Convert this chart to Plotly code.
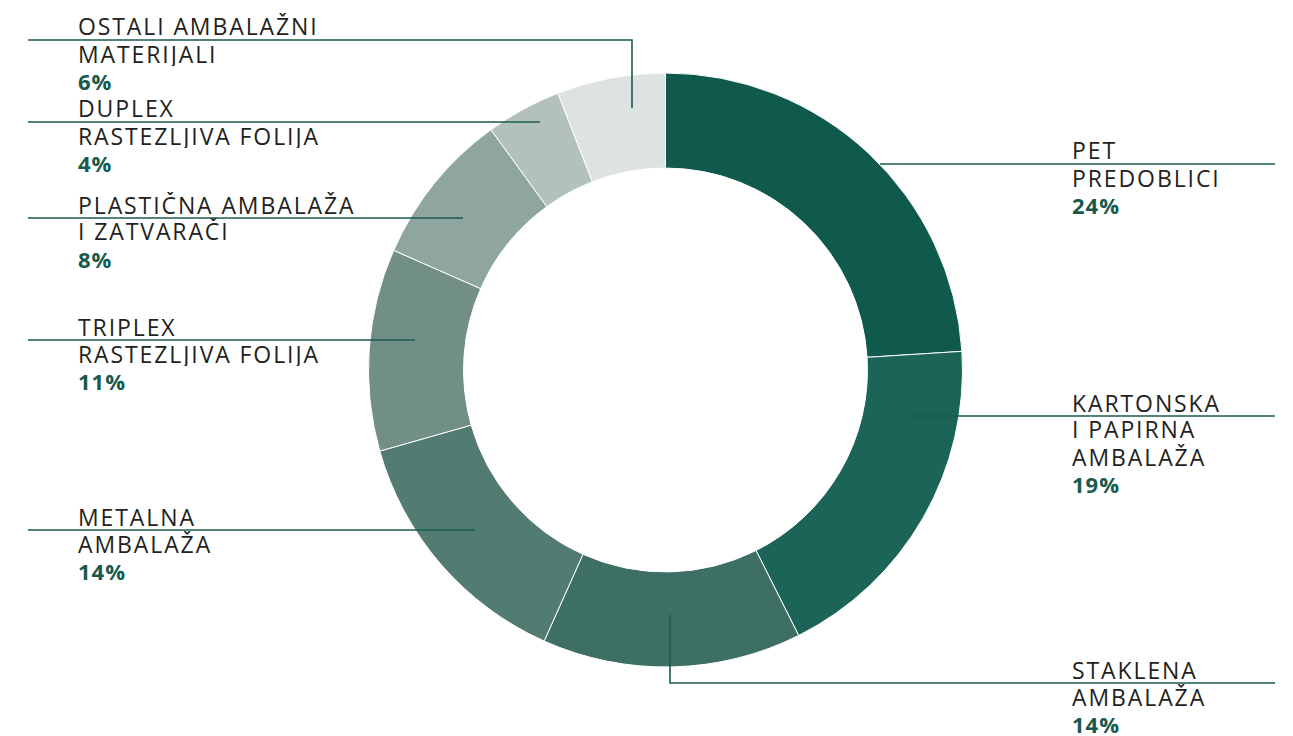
import plotly.graph_objects as go

categories = ["PET PREDOBLICI", "KARTONSKA I PAPIRNA AMBALAŽA", "STAKLENA AMBALAŽA",
              "METALNA AMBALAŽA", "TRIPLEX RASTEZLJIVA FOLIJA", "PLASTIČNA AMBALAŽA I ZATVARAČI",
              "DUPLEX RASTEZLJIVA FOLIJA", "OSTALI AMBALAŽNI MATERIJALI"]
# shares (%); labels show them rounded
values = [24.0, 18.6, 14.1, 13.9, 11.0, 8.4, 4.1, 5.9]
label_lines = [["PET", "PREDOBLICI"], ["KARTONSKA", "I PAPIRNA", "AMBALAŽA"],
               ["STAKLENA", "AMBALAŽA"], ["METALNA", "AMBALAŽA"],
               ["TRIPLEX", "RASTEZLJIVA FOLIJA"], ["PLASTIČNA AMBALAŽA", "I ZATVARAČI"],
               ["DUPLEX", "RASTEZLJIVA FOLIJA"], ["OSTALI AMBALAŽNI", "MATERIJALI"]]
colors = ["#0f5a4d", "#1c6358", "#3d6f64", "#527b72", "#718e87", "#8fa59f", "#b3c1bd", "#dde3e2"]

W, H = 1293, 736
cx, cy, R = 665.5, 370, 297

# layout for labels (pixel positions): text x, line y, leader path points
label_layout = [
    dict(tx=1071, ly=164, path=[(880, 164), (1275, 164)]),
    dict(tx=1071, ly=416, path=[(912, 416), (1275, 416)]),
    dict(tx=1071, ly=683, path=[(670, 615), (670, 683), (1275, 683)]),
    dict(tx=77, ly=530, path=[(475, 530), (28, 530)]),
    dict(tx=77, ly=340, path=[(415, 340), (28, 340)]),
    dict(tx=77, ly=218, path=[(463, 218), (28, 218)]),
    dict(tx=77, ly=122, path=[(540, 122), (28, 122)]),
    dict(tx=77, ly=40, path=[(632, 108), (632, 40), (28, 40)]),
]
LINE_STEP = 27
FONT = "Open Sans"
SIZE = 23
SPACING = "1.9px"

def px(x):
    return x / W

def py(y):
    return 1 - y / H

fig = go.Figure(go.Pie(
    labels=categories, values=values, sort=False, direction="clockwise", rotation=0,
    hole=0.68, marker=dict(colors=colors, line=dict(color="white", width=1)),
    textinfo="none", hoverinfo="label+percent", showlegend=False,
    domain=dict(x=[px(cx - R), px(cx + R)], y=[py(cy + R), py(cy - R)]),
))

line_color = "#1a5a4f"
shapes = []
annotations = []
for lines, v, lay in zip(label_lines, values, label_layout):
    path = "M " + " L ".join(f"{px(x)} {py(y)}" for x, y in lay["path"])
    shapes.append(dict(type="path", xref="paper", yref="paper", path=path,
                       line=dict(color=line_color, width=1.6)))
    rows = [(t, False) for t in lines] + [(f"{round(v)}%", True)]
    for i, (t, bold) in enumerate(rows):
        yc = lay["ly"] - 14 + i * LINE_STEP
        if bold:
            txt = f"<b><span style='letter-spacing:1px'>{t}</span></b>"
            col = "#17594c"
            size = SIZE - 1
        else:
            txt = f"<span style='letter-spacing:{SPACING}'>{t}</span>"
            col = "#231f20"
            size = SIZE
        annotations.append(dict(
            x=px(lay["tx"]), y=py(yc), xref="paper", yref="paper",
            xanchor="left", yanchor="middle", align="left", valign="middle",
            height=25, borderpad=0, showarrow=False,
            text=txt, font=dict(family=FONT, size=size, color=col),
        ))

fig.update_layout(
    width=W, height=H, margin=dict(l=0, r=0, t=0, b=0),
    paper_bgcolor="white", plot_bgcolor="white",
    shapes=shapes, annotations=annotations,
)
fig.write_html("out.html", config={"displayModeBar": False},
               post_script="document.body.style.margin='0';")
